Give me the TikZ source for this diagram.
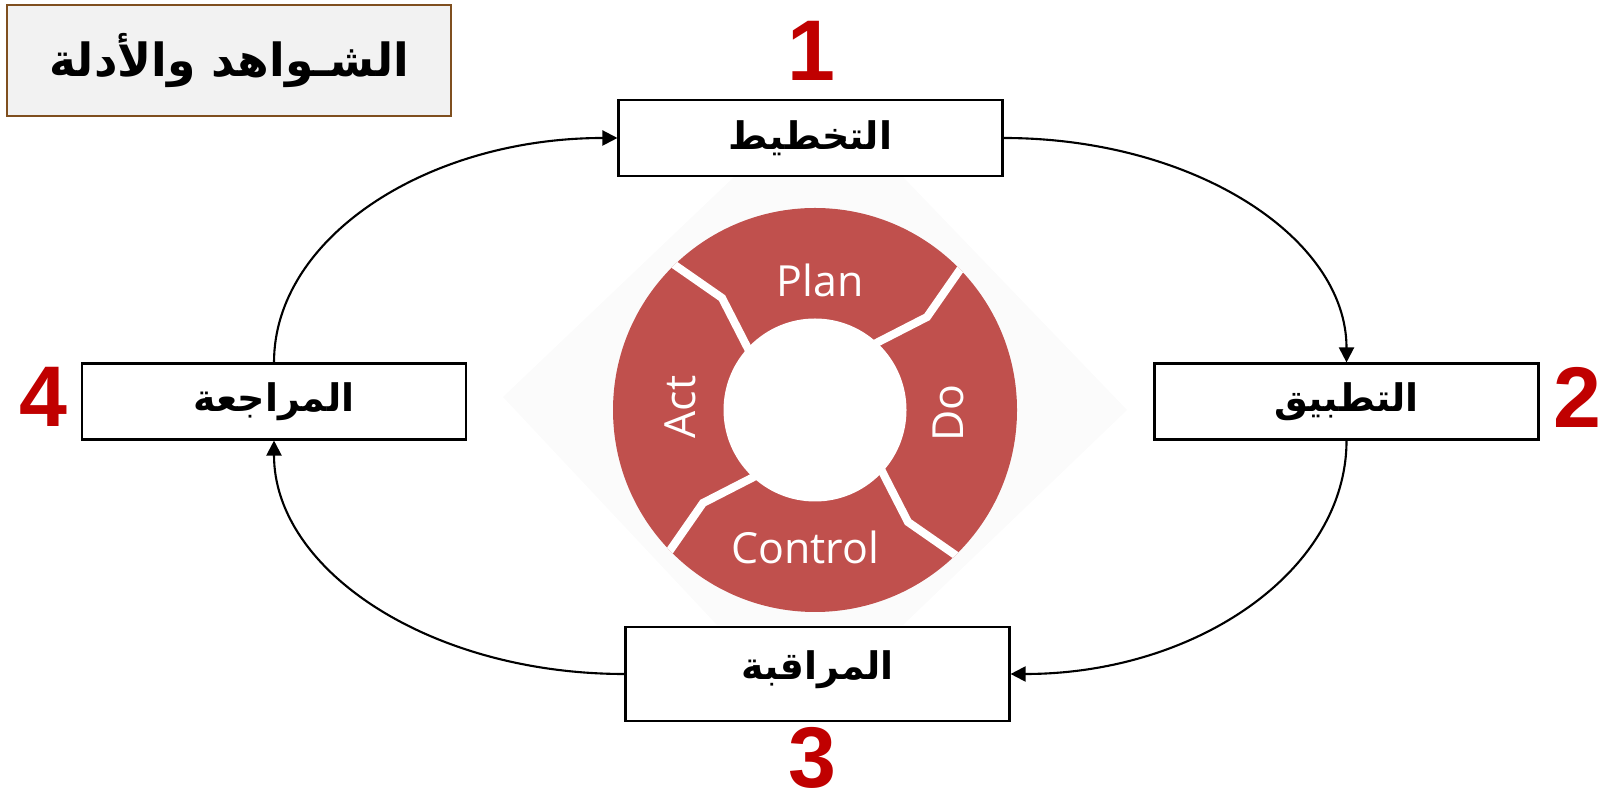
\documentclass[tikz,border=0pt]{standalone}
\usepackage{fontspec}
\usepackage{tikz}
\usetikzlibrary{arrows.meta}
\setmainfont{Liberation Sans}
\newfontfamily\arabicfont[Script=Arabic]{DejaVu Sans}
\newfontfamily\wheelfont{Open Sans}
\TeXXeTstate=1
\definecolor{wheelred}{HTML}{C0504D}
\definecolor{numred}{HTML}{C00000}
\definecolor{titlebrown}{HTML}{7F4F1F}
\definecolor{titlegray}{HTML}{F2F2F2}

\begin{document}
\begin{tikzpicture}[
    stage/.style={draw=black, line width=0.6pt, fill=white, minimum width=3.84cm, minimum height=0.76cm, inner sep=0pt, font=\arabicfont\bfseries\fontsize{10.8}{12}\selectfont},
    num/.style={text=numred, inner sep=0pt, font=\bfseries\fontsize{24.5}{26}\selectfont},
    phase/.style={text=white, font=\wheelfont\fontsize{12.2}{14}\selectfont},
    flow/.style={line width=0.6pt, -{Triangle[length=4.3pt,width=4.3pt]}},
    gap/.style={white, line width=2.3pt}
]
            \useasboundingbox (0,0) rectangle (16.06,8);

            % Fondo de la rueda
            \fill[black!1.5] (7.34,6.23) -- (9.03,6.23) -- (11.27,3.90) -- (9.03,1.75) -- (7.17,1.75) -- (5.03,4.03) -- cycle;

            % Rueda
            \begin{scope}[shift={(8.15,3.90)}]
                \fill[wheelred] (0,0) circle (2.02);
                \fill[white] (0,0) circle (0.915);
                % Separaciones
                \begin{scope}
                    \clip (0,0) circle (2.02);
                    \foreach \a in {0,90,180,270}
                        \draw[gap, rotate=\a] (49:0.85) -- (39.7:1.456) -- (45:2.2);
                \end{scope}
                \node[phase] (plan-t) at (0.05,1.30) {Plan};
                \node[phase, rotate=90] (do-t) at (1.33,-0.03) {Do};
                \node[phase] (control-t) at (-0.10,-1.37) {Control};
                \node[phase, rotate=90] (act-t) at (-1.35,0.03) {Act};
            \end{scope}

            % Cajas
            \node[draw=titlebrown, line width=0.6pt, fill=titlegray, minimum width=4.44cm, minimum height=1.11cm, font=\arabicfont\bfseries\fontsize{13}{15}\selectfont] (title) at (2.29,7.395) {\beginR الشـواهد والأدلة\endR};
            \node[stage] (plan) at (8.105,6.62) {\beginR التخطيط\endR};
            \node[stage] (do) at (13.465,3.985) {\beginR التطبيق\endR};
            \node[stage, minimum height=0pt, text height=0.53cm, text depth=0.41cm] (control) at (8.175,1.26) {\beginR المراقبة\endR};
            \node[stage] (act) at (2.74,3.985) {\beginR المراجعة\endR};

            % Numeros
            \node[num] (n1) at (8.11,7.49) {1};
            \node[num] (n2) at (15.77,4.03) {2};
            \node[num] (n3) at (8.12,0.42) {3};
            \node[num] (n4) at (0.43,4.03) {4};

            % Flechas
            \draw[flow] (act.north) .. controls +(0,1.25) and +(-1.9,0) .. (plan.west);
            \draw[flow] (plan.east) .. controls +(1.9,0) and +(0,1.25) .. (do.north);
            \draw[flow] (do.south) .. controls +(0,-1.3) and +(1.86,0) .. (control.east);
            \draw[flow] (control.west) .. controls +(-1.94,0) and +(0,-1.3) .. (act.south);
\end{tikzpicture}
\end{document}
